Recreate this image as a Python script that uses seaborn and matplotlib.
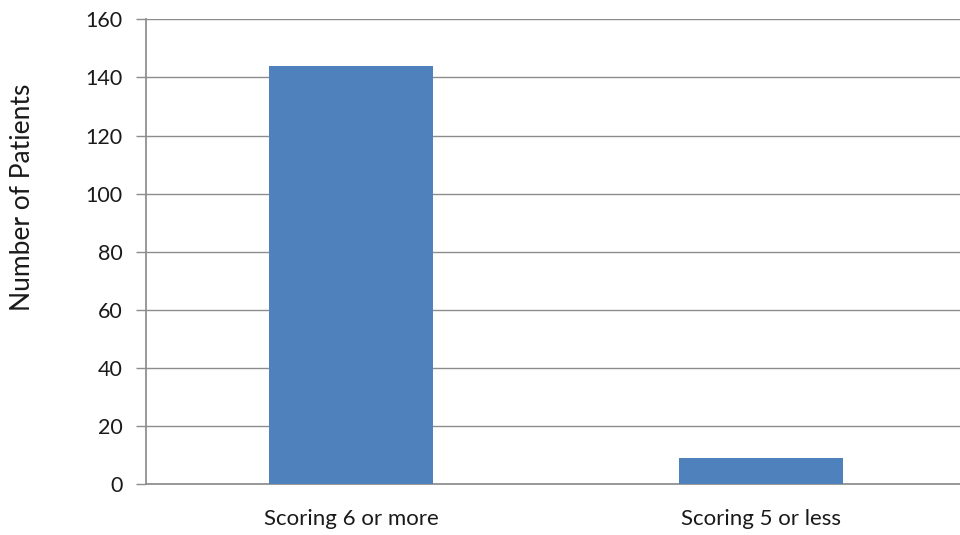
import matplotlib
matplotlib.use("Agg")
import matplotlib.pyplot as plt
import seaborn as sns
import pandas as pd

categories = ["Scoring 6 or more", "Scoring 5 or less"]
patients = [144, 9]
y_ticks = [0, 20, 40, 60, 80, 100, 120, 140, 160]

df = pd.DataFrame({"group": categories, "patients": patients})

sns.set_theme(style="white")
plt.rcParams["font.family"] = ["Lato", "DejaVu Sans"]

fig = plt.figure(figsize=(9.6, 5.35), dpi=100)
ax = fig.add_axes([146 / 960, 50.7 / 535, 820 / 960, 465 / 535])

sns.barplot(data=df, x="group", y="patients", color="#4F81BD",
            width=0.4, saturation=1, linewidth=0, ax=ax, zorder=3)

ax.set_ylim(0, 160)
ax.set_yticks(y_ticks)
ax.set_xlim(-0.5, 1.5)
ax.yaxis.grid(True, color="#8C8C8C", linewidth=1.0, zorder=0)
ax.set_axisbelow(True)

for side in ["top", "right"]:
    ax.spines[side].set_visible(False)
ax.spines["left"].set_color("#8C8C8C")
ax.spines["bottom"].set_color("#8C8C8C")

# category boundary ticks hanging below the baseline
ax.set_xticks([-0.5, 0.5], minor=True)
ax.tick_params(axis="x", which="major", length=0, pad=18, labelsize=16, labelcolor="#1a1a1a")
ax.tick_params(axis="x", which="minor", length=7, width=1, color="#8C8C8C", direction="out")
ax.tick_params(axis="y", length=7, width=1, color="#8C8C8C", direction="out",
               labelsize=15.5, labelcolor="#1a1a1a", left=True, pad=10)

ax.set_xlabel("")
ax.set_ylabel("")
fig.text(23 / 960, 1 - 197 / 535, "Number of Patients", rotation=90,
         fontsize=19, color="#1a1a1a", ha="center", va="center")

fig.savefig("out.png", dpi=100)
